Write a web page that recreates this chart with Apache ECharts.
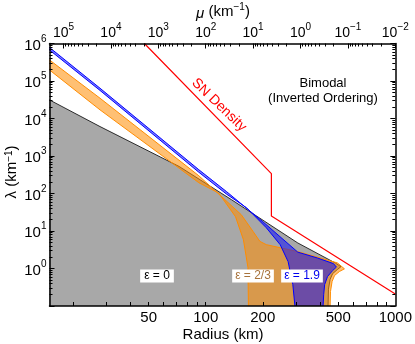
<!DOCTYPE html>
<html>
<head>
<meta charset="utf-8">
<script src="https://cdn.jsdelivr.net/npm/echarts@6/dist/echarts.min.js"></script>
<style>
  html, body { margin: 0; padding: 0; background: #fff; }
  #chart { width: 415px; height: 344px; }
</style>
</head>
<body>
<div id="chart"></div>
<script>
// radius (km) and lambda (km^-1)
// eps = 0 region (gray)
const grayR   = [14, 15, 27.7, 72.4, 137, 205, 306, 484, 517, 495, 467, 453, 444, 442, 442, 14];
const grayLam = [3.13e4, 3.13e4, 6100, 526, 68, 18, 4.8, 1.39, 1.12, 0.94, 0.73, 0.51, 0.28, 0.1, 0.05, 0.05];

// eps = 2/3 region (orange)
const orangeR   = [14, 15, 27.7, 92, 154, 178, 193, 208.5, 306, 495, 539, 507, 478, 464, 455, 453, 453,
                   168, 168, 167, 158, 143.6, 117, 92, 27.7, 15, 14];
const orangeLam = [3.64e5, 3.64e5, 3.48e4, 297, 27.2, 9.6, 5.3, 4.33, 2.82, 1.41, 0.98, 0.83, 0.65, 0.45, 0.243, 0.1, 0.05,
                   0.05, 0.1, 1.07, 5.9, 24.1, 103, 194, 1.7e4, 1.97e5, 1.97e5];

// eps = 1.9 region (blue)
const blueR   = [14, 15, 27.7, 92, 129, 200, 306, 389, 472, 489, 467, 439, 424, 419, 416, 416,
                 295.5, 295.5, 288, 272, 247, 208.5, 164, 129, 92, 27.7, 15, 14];
const blueLam = [7.83e5, 7.83e5, 6.42e4, 430, 111.5, 17.7, 2.73, 1.9, 1.35, 1.09, 0.88, 0.61, 0.373, 0.2, 0.1, 0.05,
                 0.05, 0.1, 0.373, 1.53, 4.33, 12.3, 41.8, 95.7, 368, 5.61e4, 6.71e5, 6.71e5];

// SN density profile
const snR   = [47.5, 222, 222, 1000];
const snLam = [1e6, 340, 25, 0.21];

// ticks and labels
const rTicks  = [20, 30, 40, 50, 60, 70, 80, 90, 100, 200, 300, 400, 500, 600, 700, 800, 900];
const rLabels = [50, 100, 200, 500, 1000];
const lamMajor  = [0.1, 1, 10, 100, 1e3, 1e4, 1e5, 1e6];
const lamLabels = [1, 10, 100, 1e3, 1e4, 1e5, 1e6];
const muMajor   = [1e-2, 1e-1, 1, 10, 100, 1e3, 1e4, 1e5];
const muMin = 0.01;
const muMax = 1e10 / Math.pow(15, 4);

const minorOf = (lo, hi) => {
  const out = [];
  for (let e = lo; e < hi; e++) {
    for (let k = 2; k <= 9; k++) out.push(k * Math.pow(10, e));
  }
  return out;
};
const lamMinor = minorOf(-1, 6);
const muMinor = minorOf(-2, 6).filter(v => v < muMax);

const FONT = '"Liberation Sans", Arial, sans-serif';

const pow10 = v => {
  const e = Math.round(Math.log10(v));
  return '{b|10}{s|' + (e < 0 ? '\u2212' + (-e) : e) + '}';
};
const supRich = (size) => ({
  b: { fontSize: size, fontFamily: FONT, color: '#000', lineHeight: size + 4, verticalAlign: 'bottom' },
  s: { fontSize: 10, fontFamily: FONT, color: '#000', lineHeight: 11, verticalAlign: 'top' }
});

const lineStyle = { color: '#000', width: 1.5 };
const logAxis = (extra) => Object.assign({
  type: 'log', logBase: 10, z: 5,
  splitLine: { show: false }, minorTick: { show: false }, minorSplitLine: { show: false }
}, extra);

const polySeries = (rs, lams, fill, stroke, width, z) => ({
  type: 'custom',
  xAxisIndex: 0, yAxisIndex: 0, z: z, clip: true, silent: true,
  data: [[rs[1], lams[1]]],
  renderItem: (params, api) => ({
    type: 'polygon',
    shape: { points: rs.map((r, i) => api.coord([r, lams[i]])) },
    style: { fill: fill, stroke: stroke, lineWidth: width }
  })
});

const chart = echarts.init(document.getElementById('chart'));

chart.setOption({
  animation: false,
  backgroundColor: '#fff',
  grid: { left: 49.5, right: 17.5, top: 43.5, bottom: 38 },
  xAxis: [
    logAxis({
      min: 15, max: 1000, position: 'bottom',
      axisLine: { show: true, onZero: false, lineStyle: lineStyle },
      axisTick: { show: true, inside: true, length: 4, customValues: rTicks, lineStyle: { color: '#000', width: 1 } },
      axisLabel: { customValues: rLabels, formatter: v => String(Math.round(v)), fontSize: 15, fontFamily: FONT, color: '#000', margin: 4 }
    }),
    logAxis({
      min: muMin, max: muMax, inverse: true, position: 'top',
      axisLine: { show: true, onZero: false, lineStyle: lineStyle },
      axisTick: { show: true, inside: true, length: 5, customValues: muMajor, lineStyle: { color: '#000', width: 1 } },
      axisLabel: { customValues: muMajor, formatter: pow10, rich: supRich(14), margin: 3 }
    }),
    logAxis({
      min: muMin, max: muMax, inverse: true, position: 'top',
      axisLine: { show: false },
      axisTick: { show: true, inside: true, length: 3, customValues: muMinor, lineStyle: { color: '#000', width: 1 } },
      axisLabel: { show: false }
    })
  ],
  yAxis: [
    logAxis({
      min: 0.1, max: 1e6, position: 'left',
      axisLine: { show: true, onZero: false, lineStyle: lineStyle },
      axisTick: { show: true, inside: true, length: 5, customValues: lamMajor, lineStyle: { color: '#000', width: 1 } },
      axisLabel: { customValues: lamLabels, formatter: pow10, rich: supRich(15), margin: 3 }
    }),
    logAxis({
      min: 0.1, max: 1e6, position: 'left',
      axisLine: { show: false },
      axisTick: { show: true, inside: true, length: 3, customValues: lamMinor, lineStyle: { color: '#000', width: 1 } },
      axisLabel: { show: false }
    }),
    logAxis({
      min: 0.1, max: 1e6, position: 'right',
      axisLine: { show: true, onZero: false, lineStyle: lineStyle },
      axisTick: { show: true, inside: true, length: 5, customValues: lamMajor, lineStyle: { color: '#000', width: 1 } },
      axisLabel: { show: false }
    }),
    logAxis({
      min: 0.1, max: 1e6, position: 'right',
      axisLine: { show: false },
      axisTick: { show: true, inside: true, length: 3, customValues: lamMinor, lineStyle: { color: '#000', width: 1 } },
      axisLabel: { show: false }
    })
  ],
  series: [
    polySeries(grayR, grayLam, '#a8a8a8', '#000', 0.8, 1),
    polySeries(orangeR, orangeLam, 'rgba(255,140,0,0.55)', '#ff8c00', 1, 2),
    polySeries(blueR, blueLam, 'rgba(0,0,255,0.5)', '#0000ff', 1, 3),
    {
      type: 'line', xAxisIndex: 0, yAxisIndex: 0, z: 4,
      data: snR.map((r, i) => [r, snLam[i]]),
      showSymbol: false, silent: true,
      lineStyle: { color: '#ff0000', width: 1.2 }
    }
  ],
  graphic: [
    { type: 'text', x: 223, y: 335, style: { text: 'Radius (km)', font: '15px ' + FONT, fill: '#000', align: 'center', verticalAlign: 'middle' } },
    { type: 'text', x: 223, y: 12, style: {
        text: '{i|\u03bc} (km{s|\u22121})', fill: '#000', align: 'center', verticalAlign: 'middle',
        font: '15px ' + FONT,
        rich: {
          i: { fontSize: 15, fontFamily: FONT, fontStyle: 'italic', lineHeight: 19, verticalAlign: 'bottom' },
          s: { fontSize: 10, fontFamily: FONT, lineHeight: 11, verticalAlign: 'top' }
        } } },
    { type: 'text', x: 12, y: 172, rotation: Math.PI / 2, style: {
        text: '\u03bb (km{s|\u22121})', fill: '#000', align: 'center', verticalAlign: 'middle',
        font: '15px ' + FONT,
        rich: { s: { fontSize: 10, fontFamily: FONT, lineHeight: 11, verticalAlign: 'top' } } } },
    { type: 'text', x: 219, y: 105, rotation: -44 * Math.PI / 180, style: { text: 'SN Density', font: '14px ' + FONT, fill: '#ff0000', align: 'center', verticalAlign: 'middle' } },
    { type: 'text', x: 323, y: 83, style: { text: 'Bimodal', font: '13px ' + FONT, fill: '#000', align: 'center', verticalAlign: 'middle' } },
    { type: 'text', x: 323, y: 98, style: { text: '(Inverted Ordering)', font: '13px ' + FONT, fill: '#000', align: 'center', verticalAlign: 'middle' } },
    { type: 'text', x: 157, y: 276, z: 10, style: { text: '\u03b5 = 0', font: '12px ' + FONT, fill: '#000', align: 'center', verticalAlign: 'middle', backgroundColor: '#fff', padding: [1, 4, 0, 4] } },
    { type: 'text', x: 253, y: 276, z: 10, style: { text: '\u03b5 = 2/3', font: '12px ' + FONT, fill: '#a8733c', align: 'center', verticalAlign: 'middle', backgroundColor: '#fff', padding: [1, 3, 0, 3] } },
    { type: 'text', x: 302, y: 276, z: 10, style: { text: '\u03b5 = 1.9', font: '12px ' + FONT, fill: '#0000ee', align: 'center', verticalAlign: 'middle', backgroundColor: '#fff', padding: [1, 3, 0, 3] } }
  ]
});
</script>
</body>
</html>
